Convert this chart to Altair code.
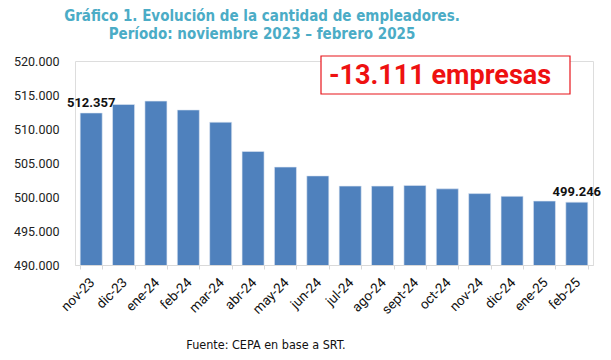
import altair as alt
import pandas as pd

months = ["nov-23", "dic-23", "ene-24", "feb-24", "mar-24", "abr-24", "may-24", "jun-24",
          "jul-24", "ago-24", "sept-24", "oct-24", "nov-24", "dic-24", "ene-25", "feb-25"]
values = [512357, 513600, 514100, 512800, 511000, 506700, 504400, 503100,
          501600, 501600, 501700, 501200, 500500, 500100, 499400, 499246]
label_text = ["512.357", "", "", "", "", "", "", "", "", "", "", "", "", "", "", "499.246"]

title_lines = ["Gráfico 1. Evolución de la cantidad de empleadores.",
               "Período: noviembre 2023 – febrero 2025"]
source_text = "Fuente: CEPA en base a SRT."
callout_text = "-13.111 empresas"

df = pd.DataFrame({"mes": months, "valor": values, "etiqueta": label_text})

COND = "'DejaVu Sans Condensed', 'Roboto Condensed', Roboto, sans-serif"

W, H = 518, 204
xscale = alt.Scale(paddingInner=0.32, paddingOuter=0.16)
xaxis = alt.Axis(title=None, labelAngle=-45, labelFont="Roboto", labelFontSize=13.5,
                 labelColor="#111", domainColor="#d9d9d9", tickColor="#d9d9d9",
                 tickBand="extent", tickSize=4, labelPadding=6, labelOffset=-4)
yscale = alt.Scale(domain=[490000, 520000], zero=False, nice=False)
yaxis = alt.Axis(title=None, values=list(range(490000, 520001, 5000)),
                 labelExpr="replace(format(datum.value, ',.0f'), ',', '.')",
                 labelOverlap=False, tickCount=7,
                 domain=False, ticks=False, grid=False, labelPadding=16,
                 labelFont="Roboto", labelFontSize=12.5, labelColor="#222")

bars = alt.Chart(df).mark_bar(color="#4F81BD", stroke="#dfe8f3", strokeWidth=0.6,
                              clip=True).encode(
    x=alt.X("mes:N", sort=months, scale=xscale, axis=xaxis),
    y=alt.Y("valor:Q", scale=yscale, axis=yaxis),
)

labels = alt.Chart(df).mark_text(dy=-10, fontWeight="bold", font="Roboto", fontSize=13,
                                 color="#111").encode(
    x=alt.X("mes:N", sort=months, scale=xscale, axis=xaxis),
    y=alt.Y("valor:Q", scale=yscale, axis=yaxis),
    text="etiqueta:N")

tdf = pd.DataFrame({"t": title_lines, "yy": [-45, -27]})
title = alt.Chart(tdf).mark_text(font=COND, fontSize=15, fontWeight="bold",
                                 color="#4BACC6").encode(
    x=alt.value(187), y=alt.Y("yy:Q", scale=None), text="t:N")

box = alt.Chart(pd.DataFrame({"a": [1]})).mark_rect(fill="white", stroke="#E8141B",
                                                    strokeWidth=1.2).encode(
    x=alt.value(246), x2=alt.value(495), y=alt.value(-5), y2=alt.value(33))
callout = alt.Chart(pd.DataFrame({"t": [callout_text]})).mark_text(
    font="Roboto", fontSize=27, fontWeight="bold", color="#EE1111").encode(
    x=alt.value(365), y=alt.value(15), text="t:N")

source = alt.Chart(pd.DataFrame({"t": [source_text]})).mark_text(
    font=COND, fontSize=12.5, color="#111").encode(
    x=alt.value(191), y=alt.value(284), text="t:N")

chart = alt.layer(bars, labels, title, box, callout, source).properties(
    width=W, height=H,
    autosize=alt.AutoSizeParams(type="none"),
    padding={"left": 67, "top": 53, "right": 10, "bottom": 90},
).configure_view(stroke=None).configure(background="white")

chart.save("out.html", embed_options={"renderer": "svg", "actions": False})
